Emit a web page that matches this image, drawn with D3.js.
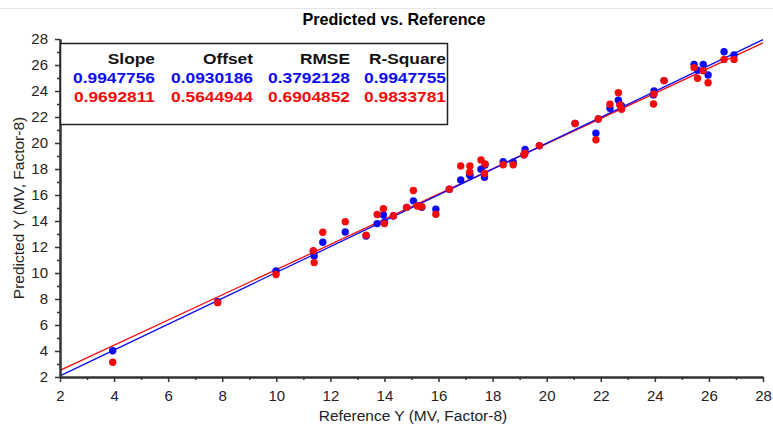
<!DOCTYPE html>
<html>
<head>
<meta charset="utf-8">
<script src="https://cdn.jsdelivr.net/npm/d3@7"></script>
<style>
  body { margin: 0; background: #fff; }
  svg { display: block; font-family: 'Liberation Sans', Arial, sans-serif; }
</style>
</head>
<body>
<div id="chart" data-js-graph></div>
<script>
// reference values (x) and predicted values for calibration (blue) and validation (red)
const reference = [3.95, 7.83, 9.99, 11.37, 11.4, 11.72, 12.55, 13.32, 13.73, 13.96, 14.0, 14.33,
  14.82, 15.07, 15.22, 15.38, 15.9, 16.4, 16.82, 17.16, 17.15, 17.57, 17.72, 17.7, 18.39, 18.76,
  19.2, 19.16, 19.73, 21.05, 21.82, 21.91, 22.34, 22.65, 22.71, 22.77, 23.97, 23.95, 24.34,
  25.45, 25.58, 25.79, 25.97, 26.56, 26.93];
const calibration = [4.02, 7.8, 10.15, 11.65, 11.3, 12.36, 13.15, 12.85, 13.8, 14.46, 13.9, 14.38,
  15.05, 15.55, 15.2, 15.05, 14.9, 16.45, 17.15, 17.5, 17.6, 17.98, 18.3, 17.36, 18.56, 18.52,
  19.5, 19.1, 19.78, 21.5, 20.75, 21.85, 22.67, 23.3, 22.95, 22.85, 24.0, 23.7, 24.8,
  26.05, 25.6, 26.05, 25.23, 27.02, 26.77];
const validation = [3.13, 7.72, 9.88, 11.72, 10.8, 13.13, 13.95, 12.9, 14.5, 14.95, 13.8, 14.4,
  15.05, 16.35, 15.15, 15.1, 14.52, 16.45, 18.23, 18.23, 17.75, 18.7, 18.38, 17.65, 18.33, 18.33,
  19.22, 19.1, 19.8, 21.5, 20.25, 21.85, 22.98, 23.87, 22.92, 22.6, 23.77, 23.0, 24.8,
  25.8, 24.98, 25.56, 24.64, 26.43, 26.43];

// stats table
const statHeaders = ['Slope', 'Offset', 'RMSE', 'R-Square'];
const calStats = ['0.9947756', '0.0930186', '0.3792128', '0.9947755'];
const valStats = ['0.9692811', '0.5644944', '0.6904852', '0.9833781'];

const majorTicks = d3.range(2, 29, 2);
const minorTicks = d3.range(3, 28, 2);

const SETTING = {
  width: 773,
  height: 428,
  left: 60,
  right: 763,
  top: 39,
  bottom: 377,
  blue: '#0a0af5',
  red: '#f50a0a',
};

const svg = d3.select('[data-js-graph]').append('svg')
  .attr('width', SETTING.width)
  .attr('height', SETTING.height);

const x = d3.scaleLinear().domain([2, 28]).range([SETTING.left, SETTING.right]);
const y = d3.scaleLinear().domain([2, 28]).range([SETTING.bottom, SETTING.top]);

// faint frame line at the top
svg.append('line')
  .attr('x1', 0).attr('x2', SETTING.width)
  .attr('y1', 8.5).attr('y2', 8.5)
  .attr('stroke', '#e6e6e6');

// title
svg.append('text')
  .attr('transform', 'translate(394,25) scale(0.95,1)')
  .attr('text-anchor', 'middle')
  .style('font-size', '17px')
  .style('font-weight', 'bold')
  .text('Predicted vs. Reference');

// fit lines (from slope / offset)
const fits = [
  { slope: +valStats[0], offset: +valStats[1], color: SETTING.red },
  { slope: +calStats[0], offset: +calStats[1], color: SETTING.blue },
];
svg.append('g')
  .selectAll('line')
  .data(fits)
  .enter()
  .append('line')
  .attr('x1', x(2))
  .attr('x2', x(28))
  .attr('y1', (d) => y(d.slope * 2 + d.offset))
  .attr('y2', (d) => y(d.slope * 28 + d.offset))
  .attr('stroke', (d) => d.color)
  .attr('stroke-width', 1.3);

// points: calibration then validation on top
const series = [
  { values: calibration, color: SETTING.blue },
  { values: validation, color: SETTING.red },
];
series.forEach((s) => {
  svg.append('g')
    .selectAll('circle')
    .data(s.values)
    .enter()
    .append('circle')
    .attr('cx', (d, i) => x(reference[i]))
    .attr('cy', (d) => y(d))
    .attr('r', 3.7)
    .attr('fill', s.color);
});

// axes
function styleAxis(g) {
  g.select('.domain').attr('stroke', '#333').attr('stroke-width', 2);
  g.selectAll('.tick line').attr('stroke', '#333').attr('stroke-width', 1.5);
  g.selectAll('.tick text').style('font-size', '15px').attr('fill', '#222');
}

svg.append('g')
  .attr('transform', `translate(0,${SETTING.bottom})`)
  .call(d3.axisBottom(x).tickValues(minorTicks).tickFormat('').tickSize(3).tickSizeOuter(0))
  .call(styleAxis);
svg.append('g')
  .attr('transform', `translate(0,${SETTING.bottom})`)
  .call(d3.axisBottom(x).tickValues(majorTicks).tickSize(5).tickSizeOuter(0).tickPadding(8))
  .call(styleAxis);

svg.append('g')
  .attr('transform', `translate(${SETTING.left},0)`)
  .call(d3.axisLeft(y).tickValues(minorTicks).tickFormat('').tickSize(3).tickSizeOuter(0))
  .call(styleAxis);
svg.append('g')
  .attr('transform', `translate(${SETTING.left},0)`)
  .call(d3.axisLeft(y).tickValues(majorTicks).tickSize(5).tickSizeOuter(0).tickPadding(7))
  .call(styleAxis);

// axis titles
svg.append('text')
  .attr('x', 413)
  .attr('y', 421)
  .attr('text-anchor', 'middle')
  .style('font-size', '15.5px')
  .attr('fill', '#222')
  .text('Reference Y (MV, Factor-8)');

svg.append('text')
  .attr('transform', 'translate(24,208) rotate(-90)')
  .attr('text-anchor', 'middle')
  .style('font-size', '15.5px')
  .attr('fill', '#222')
  .text('Predicted Y (MV, Factor-8)');

// stats box
svg.append('rect')
  .attr('x', 60.5)
  .attr('y', 43.5)
  .attr('width', 387)
  .attr('height', 81)
  .attr('fill', '#fff')
  .attr('stroke', '#222')
  .attr('stroke-width', 1.5);

const colRight = [155, 253, 350, 446];
const rows = [
  { values: statHeaders, color: '#111', y: 64 },
  { values: calStats, color: SETTING.blue, y: 83 },
  { values: valStats, color: SETTING.red, y: 102 },
];
rows.forEach((row) => {
  svg.append('g')
    .selectAll('text')
    .data(row.values)
    .enter()
    .append('text')
    .attr('transform', (d, i) => `translate(${colRight[i]},${row.y}) scale(1.12,1)`)
    .attr('text-anchor', 'end')
    .style('font-size', '15.5px')
    .style('font-weight', 'bold')
    .attr('fill', row.color)
    .text((d) => d);
});
</script>
</body>
</html>
